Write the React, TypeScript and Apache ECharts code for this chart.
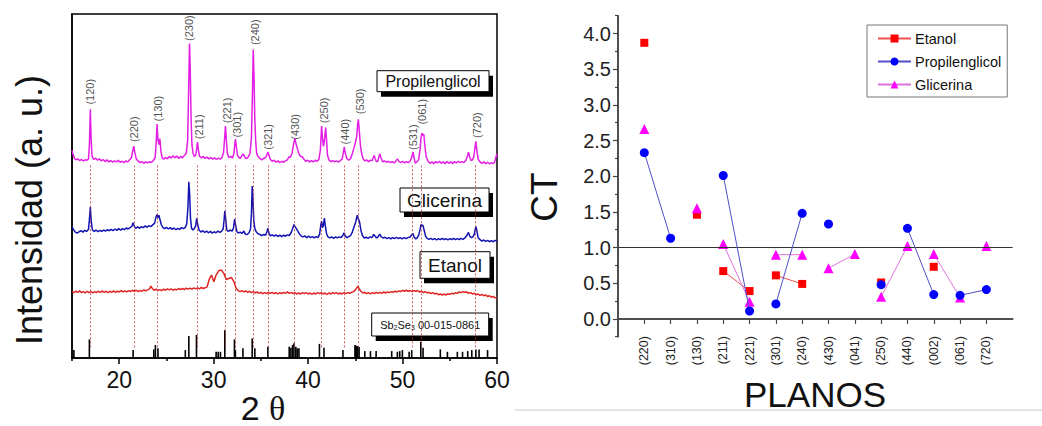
import React, { useEffect, useRef } from 'react';
import * as echarts from 'echarts';

// ================= LEFT PANEL: XRD patterns (2θ, intensity a.u.) =================
const propilenglicolXRD: number[][] = [
  [15.0,60.4],[15.1,59.2],[15.25,58.1],[15.4,57.6],[15.6,57.9],[15.8,57.4],[16.0,57.7],[16.2,57.3],[16.4,57.6],[16.6,57.5],[16.75,57.9],[16.85,62.5],[16.94,72.3],[17.02,64.0],[17.12,58.6],[17.3,57.7],[17.5,58.1],[17.7,57.5],[17.9,57.9],[18.1,57.3],[18.3,57.7],[18.5,57.1],[18.7,57.6],[18.9,57.0],[19.1,57.4],[19.3,56.9],[19.5,57.3],[19.7,57.0],[19.9,57.5],[20.1,56.9],[20.3,57.2],[20.5,56.8],[20.7,57.3],[20.9,57.0],[21.1,57.6],[21.3,58.3],[21.45,60.5],[21.54,61.6],[21.65,59.8],[21.8,57.9],[22.0,57.3],[22.2,56.8],[22.4,57.1],[22.6,56.6],[22.8,57.0],[23.0,56.7],[23.2,57.1],[23.4,56.8],[23.6,57.4],[23.8,58.2],[23.92,63.0],[24.01,68.0],[24.1,63.5],[24.2,62.0],[24.3,63.8],[24.42,60.0],[24.55,58.2],[24.7,57.8],[24.9,58.3],[25.1,57.9],[25.3,58.6],[25.5,58.1],[25.7,58.8],[25.9,58.2],[26.1,58.7],[26.3,58.0],[26.5,58.6],[26.7,58.2],[26.9,58.9],[27.1,59.5],[27.25,63.5],[27.35,78.0],[27.44,91.4],[27.52,84.0],[27.6,70.5],[27.7,62.0],[27.82,59.5],[27.95,58.6],[28.1,59.0],[28.2,60.8],[28.29,62.8],[28.38,60.5],[28.5,58.7],[28.7,58.2],[28.9,58.6],[29.1,58.0],[29.3,58.4],[29.5,57.9],[29.7,58.3],[29.9,57.8],[30.1,58.2],[30.3,57.7],[30.5,58.1],[30.7,57.8],[30.9,58.4],[31.05,59.8],[31.15,63.5],[31.25,67.4],[31.35,63.0],[31.45,59.5],[31.6,58.3],[31.8,58.6],[32.0,58.1],[32.15,59.6],[32.25,62.5],[32.31,63.6],[32.4,61.5],[32.5,59.2],[32.65,58.4],[32.8,58.0],[32.95,58.6],[33.1,59.3],[33.2,59.0],[33.32,58.2],[33.5,58.0],[33.7,58.6],[33.85,59.6],[34.0,64.0],[34.1,76.0],[34.19,89.7],[34.27,82.0],[34.35,70.0],[34.45,63.0],[34.55,59.5],[34.7,58.6],[34.9,58.0],[35.1,57.6],[35.3,58.0],[35.5,58.3],[35.65,59.2],[35.74,59.9],[35.85,59.0],[36.0,57.8],[36.2,57.2],[36.4,57.5],[36.6,56.9],[36.8,57.3],[37.0,56.8],[37.2,57.2],[37.4,56.9],[37.6,57.3],[37.8,57.6],[37.97,58.5],[38.1,58.3],[38.3,59.5],[38.45,62.0],[38.6,63.8],[38.72,62.3],[38.85,61.0],[39.0,59.6],[39.15,58.7],[39.38,58.5],[39.55,57.8],[39.75,57.2],[39.95,57.5],[40.15,57.0],[40.35,57.4],[40.55,57.0],[40.75,57.5],[40.95,57.2],[41.15,57.8],[41.3,60.5],[41.43,67.4],[41.52,64.0],[41.62,61.5],[41.72,63.0],[41.86,67.0],[41.95,63.5],[42.05,59.0],[42.2,57.6],[42.4,57.1],[42.6,57.4],[42.8,57.0],[43.0,57.3],[43.2,56.9],[43.4,57.4],[43.6,57.8],[43.72,59.5],[43.83,61.4],[43.95,59.3],[44.1,58.0],[44.3,57.5],[44.5,58.0],[44.68,59.4],[44.85,61.0],[45.0,62.5],[45.15,64.5],[45.25,68.0],[45.32,69.4],[45.42,66.0],[45.55,61.5],[45.7,59.0],[45.85,57.8],[46.0,57.3],[46.2,57.6],[46.4,57.1],[46.6,57.5],[46.8,57.4],[46.98,58.9],[47.1,58.0],[47.25,57.0],[47.4,57.3],[47.58,59.4],[47.72,58.2],[47.9,57.0],[48.1,57.3],[48.3,56.9],[48.5,57.2],[48.7,56.8],[48.9,57.1],[49.1,56.7],[49.3,57.3],[49.45,57.9],[49.6,57.2],[49.8,56.8],[50.0,57.2],[50.2,56.7],[50.4,57.1],[50.6,56.8],[50.8,57.2],[50.98,58.4],[51.11,59.9],[51.22,58.2],[51.35,56.6],[51.5,57.0],[51.7,57.6],[51.85,60.5],[51.95,64.0],[52.05,65.4],[52.15,64.8],[52.25,65.0],[52.35,62.0],[52.5,58.5],[52.7,57.2],[52.9,56.6],[53.1,57.0],[53.3,56.5],[53.5,57.1],[53.7,56.7],[53.9,57.2],[54.1,56.6],[54.3,57.0],[54.5,56.5],[54.7,57.1],[54.9,56.6],[55.1,57.0],[55.3,56.5],[55.5,57.1],[55.7,56.7],[55.9,57.2],[56.1,56.8],[56.3,57.1],[56.5,56.8],[56.7,57.4],[56.88,58.8],[56.98,59.8],[57.1,58.5],[57.25,57.4],[57.4,57.6],[57.55,58.5],[57.66,61.0],[57.76,63.0],[57.86,60.5],[58.0,57.8],[58.2,57.0],[58.4,56.6],[58.6,57.0],[58.8,56.5],[59.0,56.9],[59.2,56.4],[59.4,56.8],[59.6,56.5],[59.75,57.0],[59.9,58.5],[60.0,59.4]
];

const glicerinaXRD: number[][] = [
  [15.0,38.2],[15.15,37.4],[15.35,36.6],[15.55,36.3],[15.75,36.7],[15.95,37.0],[16.15,36.6],[16.35,37.1],[16.55,36.8],[16.75,37.4],[16.85,40.5],[16.94,43.9],[17.03,40.0],[17.15,37.3],[17.35,36.8],[17.55,37.2],[17.75,36.7],[17.95,37.1],[18.15,36.8],[18.35,37.2],[18.55,36.9],[18.75,37.3],[18.95,37.0],[19.15,37.4],[19.35,37.0],[19.55,37.5],[19.75,37.1],[19.95,37.6],[20.15,37.2],[20.35,37.6],[20.55,37.3],[20.75,37.8],[20.95,37.5],[21.15,37.9],[21.35,38.3],[21.46,39.3],[21.58,38.4],[21.75,37.7],[21.95,38.1],[22.15,37.7],[22.35,38.2],[22.55,37.9],[22.75,38.4],[22.95,38.0],[23.15,38.5],[23.35,38.2],[23.55,38.7],[23.75,39.2],[23.88,40.8],[24.0,41.7],[24.1,40.8],[24.2,41.5],[24.32,40.2],[24.45,38.8],[24.6,38.0],[24.8,37.6],[25.0,38.0],[25.2,37.5],[25.4,37.9],[25.6,37.4],[25.8,37.8],[26.0,37.3],[26.2,37.7],[26.4,37.4],[26.6,37.9],[26.8,37.6],[27.0,38.0],[27.15,39.0],[27.28,44.0],[27.37,51.2],[27.46,47.5],[27.55,40.5],[27.65,37.8],[27.8,37.2],[27.95,37.6],[28.1,38.4],[28.2,40.6],[28.3,39.0],[28.45,37.2],[28.65,36.6],[28.85,37.0],[29.05,36.5],[29.25,36.9],[29.45,36.4],[29.65,36.8],[29.85,36.3],[30.05,36.7],[30.25,36.4],[30.45,36.9],[30.65,36.5],[30.85,36.9],[31.0,37.5],[31.1,40.0],[31.18,42.7],[31.27,40.5],[31.38,37.3],[31.55,36.8],[31.75,37.2],[31.95,36.9],[32.1,37.8],[32.22,40.4],[32.33,38.5],[32.45,36.8],[32.6,36.3],[32.8,36.6],[33.0,36.2],[33.2,36.9],[33.35,36.0],[33.55,35.9],[33.75,36.4],[33.9,37.5],[34.0,42.0],[34.08,50.0],[34.16,46.0],[34.25,40.0],[34.35,37.8],[34.5,36.7],[34.7,36.1],[34.9,35.9],[35.1,35.6],[35.3,35.9],[35.5,35.7],[35.65,36.8],[35.74,37.7],[35.85,36.3],[36.0,35.5],[36.2,35.8],[36.4,35.4],[36.6,35.8],[36.8,35.3],[37.0,35.7],[37.2,35.3],[37.4,35.7],[37.6,35.4],[37.8,35.8],[38.0,35.6],[38.2,36.4],[38.35,37.5],[38.5,38.8],[38.62,38.2],[38.75,37.6],[38.88,37.0],[39.05,36.2],[39.25,35.5],[39.45,35.2],[39.65,35.5],[39.85,35.0],[40.05,35.4],[40.25,35.0],[40.45,35.3],[40.65,34.9],[40.85,35.3],[41.05,35.0],[41.22,36.0],[41.35,38.8],[41.43,39.8],[41.52,37.9],[41.62,38.5],[41.72,40.7],[41.82,38.5],[41.95,36.2],[42.1,35.2],[42.3,34.9],[42.5,35.2],[42.7,34.8],[42.9,35.2],[43.1,34.9],[43.3,35.2],[43.5,35.0],[43.68,35.6],[43.8,36.4],[43.92,35.5],[44.1,35.0],[44.3,35.3],[44.5,35.6],[44.68,36.6],[44.85,38.0],[45.05,39.6],[45.2,41.5],[45.32,40.5],[45.45,39.5],[45.6,37.0],[45.75,35.6],[45.95,34.9],[46.15,35.1],[46.35,34.8],[46.55,35.2],[46.75,35.0],[46.95,35.9],[47.1,35.4],[47.25,34.9],[47.4,35.2],[47.58,36.0],[47.75,35.2],[47.95,34.9],[48.15,35.1],[48.35,34.7],[48.55,35.0],[48.75,34.6],[48.95,35.0],[49.15,34.7],[49.35,35.1],[49.55,34.7],[49.75,35.0],[49.95,34.6],[50.15,35.0],[50.35,34.7],[50.55,35.0],[50.8,35.2],[50.98,35.8],[51.1,36.2],[51.22,35.2],[51.4,34.6],[51.55,34.9],[51.72,35.8],[51.85,37.3],[51.95,38.8],[52.05,38.5],[52.15,38.6],[52.3,37.0],[52.45,35.3],[52.6,34.8],[52.8,34.5],[53.0,34.8],[53.2,34.4],[53.4,34.7],[53.6,34.3],[53.8,34.7],[54.0,34.4],[54.2,34.8],[54.4,34.4],[54.6,34.7],[54.8,34.3],[55.0,34.7],[55.2,34.4],[55.4,34.8],[55.6,34.4],[55.8,34.7],[56.0,34.4],[56.2,34.8],[56.4,34.5],[56.6,34.9],[56.8,35.6],[56.98,36.5],[57.12,35.4],[57.3,35.0],[57.45,35.2],[57.6,36.0],[57.7,37.5],[57.78,38.15],[57.88,36.8],[58.0,35.0],[58.2,34.4],[58.4,34.0],[58.6,34.3],[58.8,33.9],[59.0,34.2],[59.2,33.8],[59.4,34.1],[59.6,33.8],[59.8,34.2],[60.0,34.0]
];

const etanolXRD: number[][] = [
  [15.0,19.3],[15.2,19.0],[15.4,19.4],[15.6,19.1],[15.8,19.5],[16.0,19.0],[16.2,19.3],[16.4,18.9],[16.6,19.4],[16.8,19.0],[17.0,19.3],[17.2,18.9],[17.4,19.3],[17.6,19.0],[17.8,19.4],[18.0,19.1],[18.2,19.5],[18.4,19.1],[18.6,19.4],[18.8,19.0],[19.0,19.4],[19.2,19.1],[19.4,19.5],[19.6,19.1],[19.8,19.4],[20.0,19.2],[20.2,19.6],[20.4,19.2],[20.6,19.5],[20.8,19.2],[21.0,19.6],[21.2,19.3],[21.4,19.7],[21.6,19.4],[21.8,19.7],[22.0,19.3],[22.2,19.6],[22.4,19.4],[22.6,19.8],[22.8,19.5],[23.0,19.8],[23.2,20.1],[23.37,20.9],[23.5,20.2],[23.7,19.7],[23.9,20.0],[24.1,19.6],[24.3,19.9],[24.5,19.6],[24.7,20.0],[24.9,19.7],[25.1,20.1],[25.3,19.8],[25.5,20.1],[25.7,19.7],[25.9,20.0],[26.1,19.8],[26.3,20.2],[26.5,19.9],[26.7,20.2],[26.9,19.9],[27.1,20.3],[27.3,20.0],[27.5,20.3],[27.7,20.0],[27.9,20.4],[28.1,20.1],[28.3,20.4],[28.5,20.1],[28.7,20.5],[28.9,20.2],[29.1,20.4],[29.31,20.7],[29.56,23.1],[29.77,24.1],[30.02,22.2],[30.26,24.1],[30.55,25.4],[30.8,25.6],[31.08,24.6],[31.33,22.8],[31.6,23.1],[31.89,23.4],[32.14,22.2],[32.39,20.2],[32.6,19.6],[32.8,19.3],[33.0,19.6],[33.2,19.2],[33.4,19.5],[33.6,19.1],[33.8,19.4],[34.0,19.0],[34.2,19.3],[34.4,18.9],[34.6,19.2],[34.8,18.8],[35.0,19.1],[35.2,18.7],[35.4,19.0],[35.6,18.7],[35.8,19.1],[36.0,18.8],[36.2,19.1],[36.4,18.7],[36.6,19.0],[36.8,18.6],[37.0,19.0],[37.2,18.7],[37.4,19.1],[37.6,18.8],[37.8,19.2],[38.0,18.8],[38.2,19.1],[38.4,18.7],[38.6,19.0],[38.8,18.6],[39.0,18.9],[39.2,18.6],[39.4,19.0],[39.6,18.7],[39.8,19.0],[40.0,18.6],[40.2,18.9],[40.4,18.5],[40.6,18.9],[40.8,18.6],[41.0,19.0],[41.2,18.7],[41.4,19.0],[41.6,18.6],[41.8,18.9],[42.0,18.5],[42.2,18.9],[42.4,18.6],[42.6,19.0],[42.8,18.7],[43.0,19.0],[43.2,18.6],[43.4,18.9],[43.6,18.6],[43.8,19.0],[44.0,18.7],[44.2,19.0],[44.4,18.8],[44.6,19.1],[44.8,19.3],[45.0,19.8],[45.15,20.4],[45.28,20.9],[45.42,20.0],[45.6,19.4],[45.8,18.9],[46.0,19.1],[46.2,18.7],[46.4,19.0],[46.6,18.6],[46.8,19.0],[47.0,18.7],[47.2,19.1],[47.4,18.8],[47.6,19.1],[47.8,18.8],[48.0,19.2],[48.2,18.9],[48.4,19.2],[48.6,19.0],[48.8,19.3],[49.0,19.1],[49.2,19.4],[49.4,19.2],[49.6,19.5],[49.8,19.3],[50.0,19.7],[50.2,19.4],[50.4,19.7],[50.6,19.4],[50.8,19.6],[51.0,19.3],[51.2,19.6],[51.4,19.4],[51.6,19.6],[51.8,19.2],[52.0,19.4],[52.2,19.0],[52.4,19.3],[52.6,18.9],[52.8,19.1],[53.0,18.7],[53.2,19.0],[53.4,18.6],[53.6,18.8],[53.8,18.4],[54.0,18.6],[54.2,18.3],[54.4,18.6],[54.6,18.3],[54.8,18.7],[55.0,18.5],[55.2,18.8],[55.4,18.6],[55.6,19.0],[55.8,18.8],[56.0,19.2],[56.2,19.0],[56.4,19.3],[56.6,19.1],[56.8,19.2],[57.0,18.8],[57.2,19.0],[57.4,18.6],[57.6,18.8],[57.8,18.4],[58.0,18.6],[58.2,18.2],[58.4,18.5],[58.6,18.1],[58.8,18.3],[59.0,17.9],[59.2,18.1],[59.4,17.7],[59.6,17.9],[59.8,17.5],[60.0,17.5]
];

// Reference pattern Sb2Se3 00-015-0861 (stick positions and heights)
const refSticks2Theta = [15.2,16.84,21.47,23.66,23.83,24.1,27.0,27.37,28.18,30.26,30.48,30.72,31.18,32.2,32.3,33.1,34.08,34.36,35.74,38.0,38.18,38.35,38.5,38.7,38.85,39.03,41.2,41.68,43.69,44.96,45.05,45.15,45.25,45.4,46.0,46.6,47.2,48.85,49.45,49.7,49.98,50.7,50.97,51.93,52.17,54.0,54.75,55.8,56.35,56.9,57.33,57.76,58.1,59.0];
const refSticksIntensity = [2.3,5.4,2.3,2.5,3.8,2.8,2.3,6.4,6.7,1.8,1.8,1.8,8.1,5.4,2.3,2.8,5.7,2.8,3.3,3.3,3.0,3.8,4.3,3.3,2.8,2.8,4.1,3.0,2.3,3.8,3.6,3.5,3.4,3.2,2.0,2.0,2.0,2.0,1.8,2.0,2.3,1.8,2.3,4.7,3.0,2.5,1.8,1.8,1.8,2.0,2.3,2.5,2.5,2.3];

// Peak (hkl) labels
const peakNames = ['(120)','(220)','(130)','(230)','(211)','(221)','(301)','(240)','(321)','(430)','(250)','(440)','(530)','(531)','(061)','(720)'];
const peakLabel2Theta = [16.94,21.61,24.12,27.44,28.43,31.36,32.49,34.36,35.74,38.6,41.68,43.9,45.46,51.11,52.1,57.83];
const peakLabelHeight = [77.4,66.5,72.5,95.9,67.2,72.0,67.8,94.7,64.3,67.2,72.0,65.8,74.6,64.2,71.6,67.7];

// Dotted guide lines at peak positions
const guide2Theta = [16.94,21.54,24.01,28.24,31.2,32.28,34.15,35.74,38.55,41.4,43.78,45.3,51.05,52.0,57.72];
const guideTop = 56;
const guideBottom = 3;

const xrdTicks = [20, 30, 40, 50, 60];
const xrdMinorTicks = [15, 25, 35, 45, 55];

// ================= RIGHT PANEL: CT per plane =================
const planos = ['(220)','(310)','(130)','(211)','(221)','(301)','(240)','(430)','(041)','(250)','(440)','(002)','(061)','(720)'];
const ctEtanol = [3.87, null, 1.46, 0.67, 0.39, 0.61, 0.49, null, null, 0.51, null, 0.73, null, null];
const ctPropilenglicol = [2.33, 1.13, null, 2.01, 0.11, 0.21, 1.48, 1.33, null, 0.48, 1.27, 0.34, 0.33, 0.41];
const ctGlicerina = [2.66, null, 1.55, 1.05, 0.24, 0.90, 0.90, 0.71, 0.91, 0.31, 1.02, 0.91, 0.30, 1.02];
const etanolLinks = [['(211)','(221)'],['(301)','(240)']];
const propilenglicolLinks = [['(220)','(310)'],['(211)','(221)'],['(301)','(240)'],['(440)','(002)'],['(061)','(720)']];
const glicerinaLinks = [['(211)','(221)'],['(301)','(240)'],['(430)','(041)'],['(250)','(440)'],['(002)','(061)']];
const ctTicks = [0, 0.5, 1.0, 1.5, 2.0, 2.5, 3.0, 3.5, 4.0];
const ctMinorTicks = [-0.25, 0.25, 0.75, 1.25, 1.75, 2.25, 2.75, 3.25, 3.75, 4.25];
const ctReference = 1.0;

const FONT = '"Liberation Sans", Arial, sans-serif';

function buildCT(values: (number | null)[], links: string[][]) {
  const out: any[] = [];
  values.forEach((v, i) => {
    if (v === null) { out.push([i + 1, '-']); return; }
    out.push([i + 1, v]);
    const linked = links.some(([a, b]) => a === planos[i] && b === planos[i + 1]);
    if (!linked) out.push([i + 1.5, '-']);
  });
  return out;
}

function textBox(x: number, y: number, w: number, h: number, text: any) {
  return {
    type: 'group',
    children: [
      { type: 'rect', shape: { x: x + 4, y: y + 5, width: w, height: h }, style: { fill: '#000' } },
      { type: 'rect', shape: { x, y, width: w, height: h }, style: { fill: '#fff', stroke: '#000', lineWidth: 1 } },
      { type: 'text', x: x + w / 2, y: y + h / 2, style: { ...text, align: 'center', verticalAlign: 'middle', fill: '#111' } },
    ],
  };
}

export default function App() {
  const ref = useRef<HTMLDivElement>(null);
  useEffect(() => {
    if (!ref.current) return;
    const chart = echarts.init(ref.current, undefined, { renderer: 'svg' });
    const option: any = {
      animation: false,
      backgroundColor: '#fff',
      grid: [
        { left: 72, top: 14, width: 425, height: 344, show: true, borderColor: '#000', borderWidth: 1.5 },
        { left: 618, top: 15.7, width: 394.7, height: 321 },
      ],
      xAxis: [
        {
          gridIndex: 0, type: 'value', min: 15, max: 60, position: 'bottom',
          axisLine: { lineStyle: { color: '#000', width: 1.5 } },
          axisTick: { customValues: xrdTicks, length: 6, lineStyle: { color: '#000', width: 1.5 } },
          axisLabel: { customValues: xrdTicks, fontSize: 23, fontFamily: FONT, color: '#111', margin: 10 },
          splitLine: { show: false },
        },
        {
          gridIndex: 0, type: 'value', min: 15, max: 60, position: 'bottom',
          axisLine: { show: false },
          axisTick: { customValues: xrdMinorTicks, length: 3, lineStyle: { color: '#000', width: 1.5 } },
          axisLabel: { show: false },
          splitLine: { show: false },
        },
        {
          gridIndex: 1, type: 'value', min: 0, max: 15, position: 'bottom', offset: -14.6,
          axisLine: { lineStyle: { color: '#444', width: 1.5 } },
          axisTick: { customValues: planos.map((_, i) => i + 1), length: 5, lineStyle: { color: '#444', width: 1.2 } },
          axisLabel: {
            customValues: planos.map((_, i) => i + 1), rotate: 90, fontSize: 12.5, fontFamily: FONT, color: '#222', margin: 14,
            formatter: (v: number) => planos[Math.round(v) - 1] ?? '',
          },
          splitLine: { show: false },
        },
        {
          gridIndex: 1, type: 'value', min: 0, max: 15, position: 'top',
          axisLine: { lineStyle: { color: '#444', width: 1.5 } },
          axisTick: { show: false }, axisLabel: { show: false }, splitLine: { show: false },
        },
      ],
      yAxis: [
        {
          gridIndex: 0, type: 'value', min: 0, max: 100,
          axisLine: { show: true, lineStyle: { color: '#000', width: 1.5 } },
          axisTick: { show: false }, axisLabel: { show: false }, splitLine: { show: false },
        },
        {
          gridIndex: 1, type: 'value', min: -0.25, max: 4.25, position: 'left',
          axisLine: { show: true, lineStyle: { color: '#444', width: 1.5 } },
          axisTick: { show: true, customValues: ctTicks, length: 5, lineStyle: { color: '#444', width: 1.2 } },
          axisLabel: { customValues: ctTicks, fontSize: 20, fontFamily: FONT, color: '#222', margin: 7, formatter: (v: number) => v.toFixed(1) },
          splitLine: { show: false },
        },
        {
          gridIndex: 1, type: 'value', min: -0.25, max: 4.25, position: 'right',
          axisLine: { show: true, lineStyle: { color: '#444', width: 1.5 } },
          axisTick: { show: false }, axisLabel: { show: false }, splitLine: { show: false },
        },
        {
          gridIndex: 1, type: 'value', min: -0.25, max: 4.25, position: 'left',
          axisLine: { show: false },
          axisTick: { show: true, customValues: ctMinorTicks, length: 3, lineStyle: { color: '#444', width: 1.2 } },
          axisLabel: { show: false }, splitLine: { show: false },
        },
      ],
      legend: {
        data: ['Etanol', 'Propilenglicol', 'Glicerina'],
        orient: 'vertical', left: 867, top: 25,
        padding: [6, 6, 5, 10], itemGap: 8, itemWidth: 33, itemHeight: 10,
        borderColor: '#777', borderWidth: 1, backgroundColor: '#fff',
        textStyle: { fontSize: 14.5, fontFamily: FONT, color: '#111', padding: [0, 0, 0, -1] },
      },
      series: [
        {
          name: 'Sb2Se3 00-015-0861', type: 'bar', xAxisIndex: 0, yAxisIndex: 0,
          data: refSticks2Theta.map((x, i) => [x, refSticksIntensity[i]]),
          barWidth: 1.6, itemStyle: { color: '#000' },
          markLine: {
            silent: true, symbol: 'none', label: { show: false },
            lineStyle: { color: '#b83030', type: [2, 2], width: 1, opacity: 0.75 },
            data: guide2Theta.map((x) => [{ coord: [x, guideTop] }, { coord: [x, guideBottom] }]),
          },
        },
        {
          name: 'Propilenglicol XRD', type: 'line', xAxisIndex: 0, yAxisIndex: 0, showSymbol: false,
          data: propilenglicolXRD, lineStyle: { color: '#e41ee4', width: 1.5 }, itemStyle: { color: '#e41ee4' },
        },
        {
          name: 'Glicerina XRD', type: 'line', xAxisIndex: 0, yAxisIndex: 0, showSymbol: false,
          data: glicerinaXRD, lineStyle: { color: '#1414b4', width: 1.5 }, itemStyle: { color: '#1414b4' },
        },
        {
          name: 'Etanol XRD', type: 'line', xAxisIndex: 0, yAxisIndex: 0, showSymbol: false,
          data: etanolXRD, lineStyle: { color: '#e02424', width: 1.5 }, itemStyle: { color: '#e02424' },
        },
        {
          name: 'hkl', type: 'scatter', xAxisIndex: 0, yAxisIndex: 0, symbolSize: 0,
          data: peakNames.map((n, i) => ({ name: n, value: [peakLabel2Theta[i], peakLabelHeight[i]] })),
          label: { show: true, position: 'inside', rotate: 90, formatter: '{b}', fontSize: 11, fontFamily: FONT, color: '#222' },
        },
        {
          name: 'Etanol', type: 'line', xAxisIndex: 2, yAxisIndex: 1, z: 3,
          data: buildCT(ctEtanol, etanolLinks), symbol: 'rect', symbolSize: 8,
          itemStyle: { color: '#ff0000' }, lineStyle: { color: '#f05050', width: 1 },
          markLine: {
            silent: true, symbol: 'none', label: { show: false },
            lineStyle: { color: '#333', type: 'solid', width: 1.2 },
            data: [{ yAxis: ctReference }],
          },
        },
        {
          name: 'Glicerina', type: 'line', xAxisIndex: 2, yAxisIndex: 1, z: 4,
          data: buildCT(ctGlicerina, glicerinaLinks), symbol: 'triangle', symbolSize: 10,
          itemStyle: { color: '#ff00ff' }, lineStyle: { color: '#e070e0', width: 1 },
        },
        {
          name: 'Propilenglicol', type: 'line', xAxisIndex: 2, yAxisIndex: 1, z: 5,
          data: buildCT(ctPropilenglicol, propilenglicolLinks), symbol: 'circle', symbolSize: 9,
          itemStyle: { color: '#0000ff' }, lineStyle: { color: '#5050c8', width: 1 },
        },
      ],
      graphic: [
        { type: 'line', shape: { x1: 515, y1: 410, x2: 1042, y2: 410 }, style: { stroke: '#c8c8c8', lineWidth: 1 } },
        {
          type: 'text', x: 29, y: 210, rotation: Math.PI / 2,
          style: { text: 'Intensidad (a. u.)', fontSize: 36, fontFamily: FONT, fill: '#111', align: 'center', verticalAlign: 'middle' },
        },
        {
          type: 'text', x: 263, y: 408,
          style: {
            text: '{a|2 }{b|θ}', align: 'center', verticalAlign: 'middle',
            rich: {
              a: { fontSize: 34, lineHeight: 34, fontFamily: FONT, fill: '#111' },
              b: { fontSize: 34, lineHeight: 34, fontFamily: '"Liberation Serif", serif', fill: '#111' },
            },
          },
        },
        {
          type: 'text', x: 544, y: 197, rotation: Math.PI / 2,
          style: { text: 'CT', fontSize: 37, fontFamily: FONT, fill: '#111', align: 'center', verticalAlign: 'middle' },
        },
        {
          type: 'text', x: 815, y: 394,
          style: { text: 'PLANOS', fontSize: 35, fontFamily: FONT, fill: '#111', align: 'center', verticalAlign: 'middle' },
        },
        textBox(377, 70.7, 112, 21, { text: 'Propilenglicol', fontSize: 16, fontFamily: FONT }),
        textBox(400, 188, 89, 24, { text: 'Glicerina', fontSize: 19, fontFamily: FONT }),
        textBox(420, 251.7, 70, 26.6, { text: 'Etanol', fontSize: 19, fontFamily: FONT }),
        textBox(371.7, 313, 117, 23, {
          text: '{n|Sb}{s|2}{n|Se}{s|3}{n| 00-015-0861}',
          rich: {
            n: { fontSize: 11, fontFamily: FONT, fill: '#111' },
            s: { fontSize: 7, fontFamily: FONT, fill: '#111', padding: [6, 0, 0, 0] },
          },
        }),
      ],
    };
    chart.setOption(option);
    return () => chart.dispose();
  }, []);
  return (
    <div
      ref={ref}
      style={{ position: 'fixed', left: 0, top: 0, width: 1042, height: 426, background: '#fff' }}
    />
  );
}
